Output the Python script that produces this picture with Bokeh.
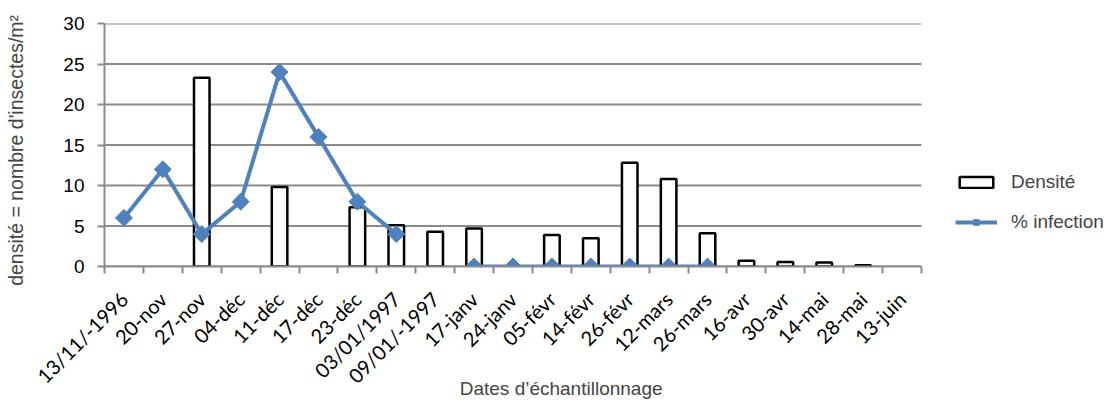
import math
from bokeh.plotting import figure
from bokeh.models import (Range1d, FixedTicker, Legend, LegendItem, ColumnDataSource)
from bokeh.embed import file_html
from bokeh.resources import INLINE

# Sampling dates (1996-1997)
dates = ["13/11/-1996", "20-nov", "27-nov", "04-déc", "11-déc", "17-déc", "23-déc",
         "03/01/1997", "09/01/-1997", "17-janv", "24-janv", "05-févr", "14-févr",
         "26-févr", "12-mars", "26-mars", "16-avr", "30-avr", "14-mai", "28-mai", "13-juin"]

nan = float("nan")

# Insect density (insects per m²), NaN where no insects were recorded
densite = [nan, nan, 23.3, nan, 9.8, nan, 7.3, 5.1, 4.3, 4.7, nan, 3.9, 3.5,
           12.8, 10.8, 4.1, 0.7, 0.55, 0.5, 0.15, nan]

# Infection rate (%), NaN where not measured
infection = [6, 12, 4, 8, 24, 16, 8, 4, nan, 0, 0, 0, 0, 0, 0, 0,
             nan, nan, nan, nan, nan]

y_ticks = [0, 5, 10, 15, 20, 25, 30]

FONT = "Liberation Sans"
TICK_FONT = "Lato"
GRID = "#8a8a8a"
BLUE = "#4f81bd"

n = len(dates)
xpos = [i + 0.5 for i in range(n)]
src = ColumnDataSource(dict(x=xpos, d=densite, inf=infection))

# The frame runs to the right edge so the legend can sit beside the data area;
# the category axis and grid lines stop at the last category.
LEFT, RIGHT_DATA, WIDTH = 104, 921, 1107
x_end = n * (WIDTH - LEFT) / (RIGHT_DATA - LEFT)

p = figure(width=WIDTH, height=402, output_backend="svg", toolbar_location=None,
           x_range=Range1d(0, x_end), y_range=Range1d(0, 30),
           min_border_left=LEFT, min_border_right=0, min_border_top=23,
           min_border_bottom=136)
p.outline_line_color = None
p.background_fill_color = "white"
p.border_fill_color = "white"
p.xgrid.grid_line_color = None
p.ygrid.grid_line_color = None

# horizontal grid lines across the category span
p.segment(x0=[0] * len(y_ticks), x1=[n] * len(y_ticks), y0=y_ticks, y1=y_ticks,
          line_color=GRID, line_width=2)

bars = p.vbar(x="x", top="d", width=0.4, source=src, fill_color="white",
              line_color="black", line_width=2.5)
ln = p.line(x="x", y="inf", source=src, line_color=BLUE, line_width=4)
mk = p.scatter(x="x", y="inf", source=src, marker="square", angle=math.pi / 4,
               size=12, fill_color=BLUE, line_color=BLUE)

# x axis: labels at category centres, tick marks at category boundaries
xa = p.xaxis[0]
xa.bounds = (0, n)
xa.ticker = FixedTicker(ticks=xpos, minor_ticks=list(range(n + 1)))
xa.major_label_overrides = {x: d for x, d in zip(xpos, dates)}
xa.major_label_orientation = math.pi / 4
xa.major_tick_line_color = None
xa.major_tick_out = 0
xa.major_tick_in = 0
xa.minor_tick_line_color = GRID
xa.minor_tick_line_width = 2
xa.minor_tick_out = 7
xa.minor_tick_in = 0
xa.axis_line_color = GRID
xa.axis_line_width = 2
xa.major_label_text_font = TICK_FONT
xa.major_label_text_font_size = "20px"
xa.major_label_text_color = "black"
xa.major_label_standoff = 22
# title centred under the plotting area (padding balances the wider frame)
xa.axis_label = "Dates d’échantillonnage" + "\u00a0" * 17
xa.axis_label_text_font = FONT
xa.axis_label_text_font_size = "19px"
xa.axis_label_text_font_style = "normal"
xa.axis_label_standoff = -21

ya = p.yaxis[0]
ya.ticker = FixedTicker(ticks=y_ticks)
ya.minor_tick_line_color = None
ya.major_tick_line_color = GRID
ya.major_tick_line_width = 2
ya.major_tick_out = 7
ya.major_tick_in = 0
ya.axis_line_color = GRID
ya.axis_line_width = 2
ya.major_label_text_font = FONT
ya.major_label_text_font_size = "19px"
ya.major_label_text_color = "black"
ya.major_label_standoff = 13
ya.axis_label = "densité = nombre d'insectes/m²" + "\u00a0" * 2
ya.axis_label_text_font = FONT
ya.axis_label_text_font_size = "19.5px"
ya.axis_label_text_font_style = "normal"
ya.axis_label_standoff = 33

legend = Legend(items=[LegendItem(label="Densité", renderers=[bars]),
                       LegendItem(label="% infection", renderers=[ln, mk])],
                location=(RIGHT_DATA - LEFT + 34, 33), padding=0, margin=0,
                spacing=18, glyph_width=42, glyph_height=14, label_height=20,
                label_standoff=14, label_text_font=FONT,
                label_text_font_size="19px", border_line_color=None,
                background_fill_alpha=0)
p.add_layout(legend, "center")

open("out.html", "w").write(file_html(p, INLINE))
